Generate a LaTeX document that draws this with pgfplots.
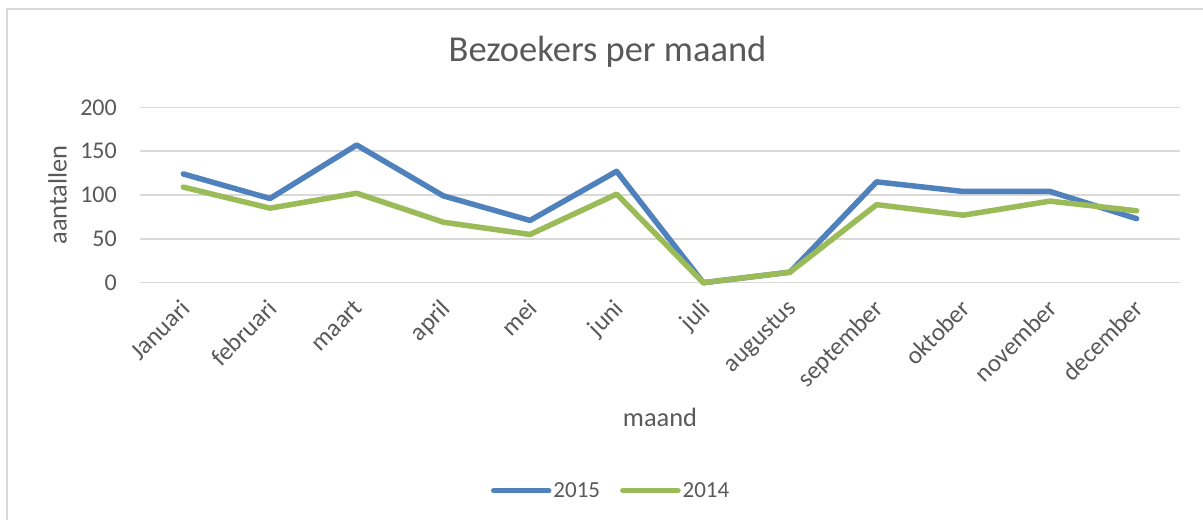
\documentclass[border=0pt]{standalone}
\usepackage{fontspec}
\setmainfont{Carlito}
\usepackage{pgfplots}
\pgfplotsset{compat=1.18}
\definecolor{blue15}{HTML}{4F81BD}
\definecolor{green14}{HTML}{9BBB59}
\definecolor{txt}{HTML}{595959}
\definecolor{gridc}{HTML}{D9D9D9}
\begin{document}
\begin{tikzpicture}[x=1pt,y=1pt]
\useasboundingbox (0,0) rectangle (1203,520);
\fill[white] (0,0) rectangle (1203,520);
\draw[gridc, line width=1.5pt] (7,0) -- (7,511) -- (1203,511);
\begin{axis}[
  at={(140pt,237.3pt)}, anchor=south west,
  scale only axis, width=1040pt, height=175.4pt,
  xmin=-0.5, xmax=11.5, ymin=0, ymax=200,
  clip=false,
  xtick={0,...,11},
  xticklabels={Januari,februari,maart,april,mei,juni,juli,augustus,september,oktober,november,december},
  ytick={0,50,100,150,200},
  axis line style={draw=none},
  major tick length=0pt,
  ymajorgrids, grid style={gridc, line width=1.5pt},
  /pgf/number format/assume math mode=true,
  xticklabel style={font=\fontsize{25}{29}\selectfont, text=txt, inner sep=0pt, anchor=north east, xshift=-4pt, yshift=-15pt, rotate=45},
  yticklabel style={font=\fontsize{24}{28}\selectfont, text=txt, inner sep=0pt, anchor=east, xshift=-23pt},
  title={Bezoekers per maand},
  title style={font=\fontsize{36.5}{40}\selectfont, text=txt, at={(axis description cs:0.5,1)}, anchor=base, xshift=-52.5pt, yshift=40.3pt},
  xlabel={maand},
  every axis x label/.style={font=\fontsize{26.4}{30}\selectfont, text=txt, at={(axis description cs:0.5,0)}, anchor=base, yshift=-144pt},
  ylabel={aantallen},
  every axis y label/.style={font=\fontsize{26.4}{30}\selectfont, text=txt, at={(axis description cs:0,0.5)}, xshift=-73.3pt, rotate=90, anchor=base},
  legend style={at={(axis description cs:0.453,-1.186)}, anchor=center, draw=none, fill=none,
    legend columns=2, font=\fontsize{23}{27}\selectfont, text=txt,
    /tikz/every even column/.append style={column sep=18pt}},
  legend image code/.code={\draw[#1, line cap=round] (0pt,0pt) -- (55pt,0pt);},
]
\addplot[blue15, line width=5.5pt, line join=round, line cap=round] coordinates {(0,124)(1,96)(2,157)(3,99)(4,71)(5,127)(6,0)(7,12)(8,115)(9,104)(10,104)(11,73)};
\addlegendentry{2015}
\addplot[green14, line width=5.5pt, line join=round, line cap=round] coordinates {(0,109)(1,85)(2,102)(3,69)(4,55)(5,101)(6,0)(7,12)(8,89)(9,77)(10,93)(11,82)};
\addlegendentry{2014}
\end{axis}
\end{tikzpicture}
\end{document}
